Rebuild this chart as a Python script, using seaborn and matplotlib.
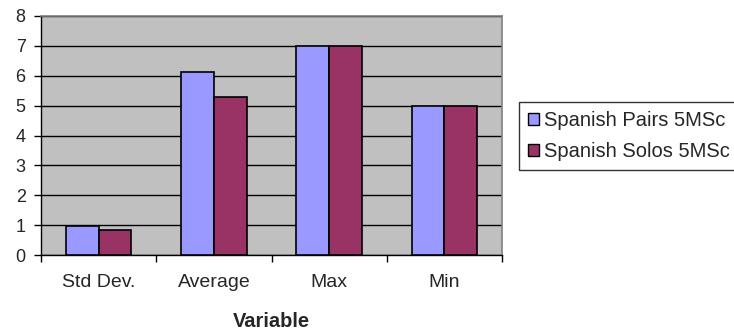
import matplotlib
matplotlib.use("Agg")
import matplotlib.pyplot as plt
import seaborn as sns
import pandas as pd
from matplotlib.patches import Patch

categories = ["Std Dev.", "Average", "Max", "Min"]
pairs = [0.98, 6.14, 7.0, 5.0]
solos = [0.83, 5.30, 7.0, 5.0]
series_names = ["Spanish Pairs 5MSc", "Spanish Solos 5MSc"]
colors = ["#9999FF", "#993366"]

df = pd.DataFrame({
    "Variable": categories * 2,
    "Value": pairs + solos,
    "Series": [series_names[0]] * 4 + [series_names[1]] * 4,
})

sns.set_theme(style="white")
plt.rcParams["font.family"] = ["Liberation Sans", "DejaVu Sans"]

fig = plt.figure(figsize=(7.34, 3.32), dpi=100)
ax = fig.add_axes([41/734, 1-255/332, (502-41)/734, (255-16)/332])
ax.set_facecolor("#C0C0C0")

sns.barplot(data=df, x="Variable", y="Value", hue="Series", palette=colors,
            saturation=1, width=0.57, edgecolor="black", linewidth=1.2, ax=ax,
            legend=False, zorder=3)

ax.set_ylim(0, 8)
ax.set_xlim(-0.5, 3.5)
ax.set_yticks(range(0, 9))
ax.yaxis.grid(True, color="black", linewidth=1.0, zorder=0)
ax.set_axisbelow(True)
ax.set_xticks([-0.5, 0.5, 1.5, 2.5, 3.5])
ax.set_xticklabels([])
ax.set_xticks(range(4), minor=True)
ax.set_xticklabels(categories, minor=True, fontsize=14)
ax.tick_params(axis="x", which="minor", length=0, pad=14)
ax.tick_params(axis="x", which="major", length=5, width=1, color="black", direction="out", bottom=True)
ax.tick_params(axis="y", length=5, width=1, color="black", direction="out", left=True, labelsize=13, pad=6)

for s in ["top", "right"]:
    ax.spines[s].set_color("#808080")
    ax.spines[s].set_linewidth(1.2)
for s in ["left", "bottom"]:
    ax.spines[s].set_color("black")
    ax.spines[s].set_linewidth(1.0)

ax.set_ylabel("")
ax.set_xlabel("Variable", fontsize=14.5, fontweight="bold", labelpad=15)

handles = [Patch(facecolor=c, edgecolor="black", linewidth=1.0) for c in colors]
leg = fig.legend(handles, series_names, loc="upper left",
                 bbox_to_anchor=(519/734, 1-102/332), frameon=True, fancybox=False,
                 fontsize=14.5, handlelength=0.55, handleheight=0.55, handletextpad=0.25,
                 borderpad=0.45, labelspacing=0.6, borderaxespad=0)
leg.get_frame().set_edgecolor("black")
leg.get_frame().set_linewidth(1.0)

fig.savefig("out.png", dpi=100)
